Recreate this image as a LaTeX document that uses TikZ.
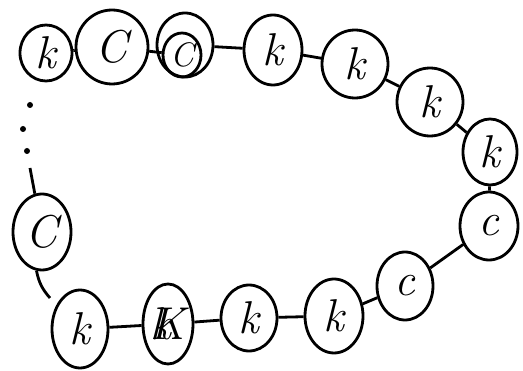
\documentclass[tikz,border=0pt]{standalone}
\usepackage{fontspec}
\usetikzlibrary{shapes.geometric}
\begin{document}
\begin{tikzpicture}[x=1pt,y=-1pt,
  ring/.style={draw, ellipse, line width=2.8pt, inner sep=0pt, font=\fontsize{46}{46}\selectfont\itshape},
  link/.style={line width=2.8pt},
  dotmark/.style={fill, circle, inner sep=0pt, minimum size=6pt}]
\useasboundingbox (0,0) rectangle (523,371);
\node[ring, minimum width=52pt, minimum height=56pt] (n1) at (46,53) {k};
\node[ring, minimum width=72pt, minimum height=74pt] (n2) at (112,47) {C};
\node[ring, minimum width=56pt, minimum height=64pt] (n3) at (185,45) {};
\node[ring, minimum width=38pt, minimum height=44pt, font=\fontsize{34}{34}\selectfont\itshape] (n3i) at (182,55) {C};
\node[ring, minimum width=58pt, minimum height=70pt] (n4) at (273,50) {k};
\node[ring, minimum width=66pt, minimum height=68pt] (n5) at (355,64) {k};
\node[ring, minimum width=66pt, minimum height=68pt] (n6) at (430,102) {k};
\node[ring, minimum width=54pt, minimum height=66pt] (n7) at (490,152) {k};
\node[ring, minimum width=58pt, minimum height=68pt] (n8) at (489,226) {c};
\node[ring, minimum width=56pt, minimum height=68pt] (n9) at (405,286) {c};
\node[ring, minimum width=58pt, minimum height=74pt] (n10) at (334,316) {k};
\node[ring, minimum width=56pt, minimum height=66pt] (n11) at (249,318) {k};
\node[ring, minimum width=50pt, minimum height=80pt] (n12) at (168,324) {\rlap{k}K};
\node[ring, minimum width=56pt, minimum height=78pt] (n13) at (80,329) {k};
\node[ring, minimum width=58pt, minimum height=76pt] (n14) at (42,232) {C};
\node[dotmark] (d1) at (30,105) {};
\node[dotmark] (d2) at (23,129) {};
\node[dotmark] (d3) at (27,151) {};
\coordinate (top14) at (30,168);
\coordinate (bot14) at (50,298);
\draw[link] (n1) -- (n2);
\draw[link] (n2) -- (n3i);
\draw[link] (n3) -- (n4);
\draw[link] (n4) -- (n5);
\draw[link] (n5) -- (n6);
\draw[link] (n6) -- (n7);
\draw[link] (n7) -- (n8);
\draw[link] (n8) -- (n9);
\draw[link] (n9) -- (n10);
\draw[link] (n10) -- (n11);
\draw[link] (n11) -- (n12);
\draw[link] (n12) -- (n13);
\draw[link] (top14) -- (n14);
\draw[link] (n14) to[bend right=15] (bot14);
\end{tikzpicture}
\end{document}
